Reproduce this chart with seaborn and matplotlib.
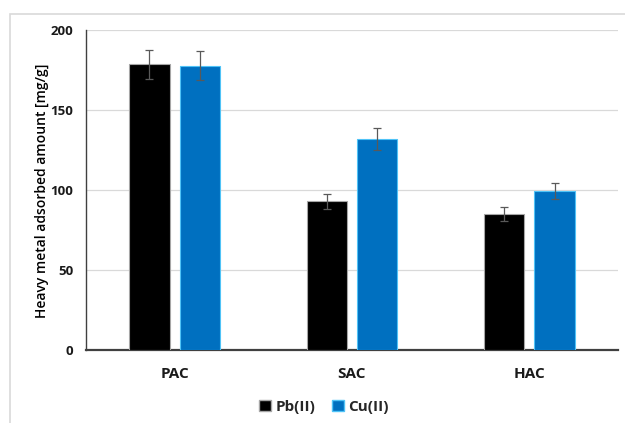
import matplotlib
matplotlib.use("Agg")
import matplotlib.pyplot as plt
import matplotlib.patches as mpatches
import pandas as pd
import seaborn as sns

# values
sorbents = ["PAC", "SAC", "HAC"]
metals = ["Pb(II)", "Cu(II)"]
pb_vals = [178.5, 92.8, 84.9]
cu_vals = [177.6, 131.9, 99.6]
pb_err = [9.0, 4.7, 4.5]
cu_err = [9.1, 6.7, 5.0]

df = pd.DataFrame({
    "Sorbent": sorbents * 2,
    "Metal": [metals[0]] * 3 + [metals[1]] * 3,
    "Amount": pb_vals + cu_vals,
    "Err": pb_err + cu_err,
})

sns.set_theme(style="white")
plt.rcParams["font.family"] = ["Open Sans", "DejaVu Sans"]

fig = plt.figure(figsize=(6.25, 4.23), dpi=100)
ax = fig.add_axes([0.1376, 0.1726, 0.8512, 0.7566])

# outer chart frame
fig.patches.append(mpatches.Rectangle((10 / 625, -0.1), 1.2, 1 - 14 / 423 + 0.1,
                                      transform=fig.transFigure, fill=False,
                                      edgecolor="#d9d9d9", linewidth=1.2, zorder=0))

palette = {"Pb(II)": "#000000", "Cu(II)": "#0070C0"}
sns.barplot(data=df, x="Sorbent", y="Amount", hue="Metal", hue_order=metals,
            order=sorbents, palette=palette, width=0.57, gap=0.2,
            errorbar=None, saturation=1, ax=ax, zorder=3)

# bar edges + error bars
edge = {"Pb(II)": "#a6a6a6", "Cu(II)": "#4fc3f7"}
for cont, m in zip(ax.containers, metals):
    sub = df[df["Metal"] == m].set_index("Sorbent").loc[sorbents]
    xs = []
    for bar in cont:
        bar.set_edgecolor(edge[m])
        bar.set_linewidth(0.8)
        xs.append(bar.get_x() + bar.get_width() / 2)
    ax.errorbar(xs, sub["Amount"], yerr=sub["Err"], fmt="none",
                ecolor="#595959", elinewidth=0.9, capsize=3, capthick=0.9, zorder=4)

ax.set_ylim(0, 200)
ax.set_yticks([0, 50, 100, 150, 200])
ax.set_xlim(-0.5, 2.5)
ax.yaxis.grid(True, color="#d9d9d9", linewidth=0.9, zorder=0)
ax.set_axisbelow(True)
for s in ["top", "right"]:
    ax.spines[s].set_visible(False)
ax.spines["left"].set_color("#404040")
ax.spines["left"].set_linewidth(1.0)
ax.spines["bottom"].set_color("#404040")
ax.spines["bottom"].set_linewidth(1.6)

ax.set_xlabel("")
ax.set_ylabel("Heavy metal adsorbed amount [mg/g]", fontsize=10, fontweight="semibold",
              color="black")
ax.yaxis.set_label_coords(-37 / 532, 0.5 - 1 / 320)
ax.tick_params(axis="y", length=0, labelsize=9.5, pad=9)
ax.tick_params(axis="x", length=0, labelsize=11, pad=12)
for lbl in ax.get_xticklabels() + ax.get_yticklabels():
    lbl.set_fontweight("bold")
    lbl.set_color("#1a1a1a")

handles = [mpatches.Patch(facecolor=palette[m], edgecolor=edge[m]) for m in metals]
ax.legend(handles, metals, loc="center", bbox_to_anchor=(0.5, -0.2),
          ncol=2, frameon=False, handlelength=0.75, handleheight=0.75,
          handletextpad=0.3, columnspacing=1.1,
          prop={"weight": "bold", "size": 11})
ax.get_legend().set_bbox_to_anchor((324 / 625, 1 - 407 / 423), transform=fig.transFigure)

fig.savefig("out.png", dpi=100, facecolor="white")
